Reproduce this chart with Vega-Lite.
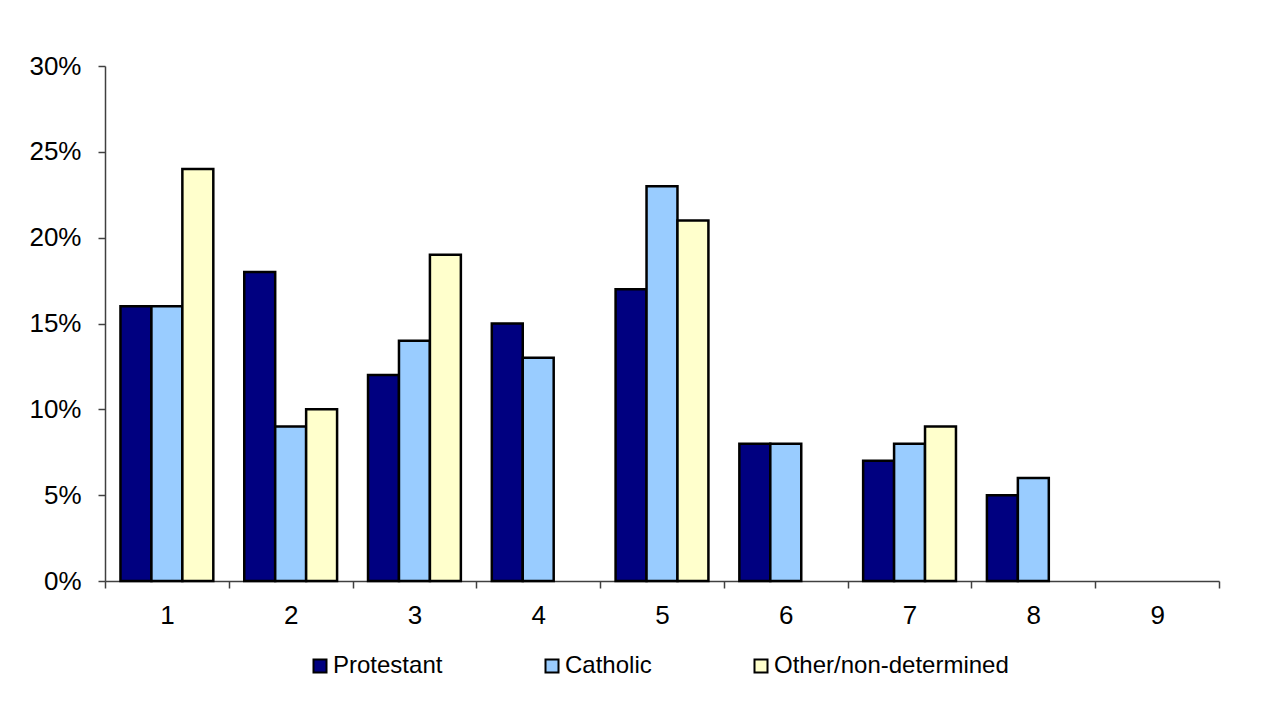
{
  "$schema": "https://vega.github.io/schema/vega-lite/v6.json",
  "width": 1114,
  "height": 515,
  "autosize": {"type": "none"},
  "padding": {"left": 105, "top": 66, "right": 54, "bottom": 127},
  "background": "white",
  "config": {
    "font": "Liberation Sans",
    "view": {"stroke": null},
    "axis": {"grid": false, "labelFont": "Liberation Sans", "labelFontSize": 26, "labelColor": "black", "domainColor": "#404040", "tickColor": "#404040", "domainWidth": 1.5, "tickWidth": 1.5, "tickSize": 7}
  },
  "data": {
    "values": [
      {"group": "1", "religion": "Protestant", "value": 0.16},
      {"group": "1", "religion": "Catholic", "value": 0.16},
      {"group": "1", "religion": "Other/non-determined", "value": 0.24},
      {"group": "2", "religion": "Protestant", "value": 0.18},
      {"group": "2", "religion": "Catholic", "value": 0.09},
      {"group": "2", "religion": "Other/non-determined", "value": 0.10},
      {"group": "3", "religion": "Protestant", "value": 0.12},
      {"group": "3", "religion": "Catholic", "value": 0.14},
      {"group": "3", "religion": "Other/non-determined", "value": 0.19},
      {"group": "4", "religion": "Protestant", "value": 0.15},
      {"group": "4", "religion": "Catholic", "value": 0.13},
      {"group": "5", "religion": "Protestant", "value": 0.17},
      {"group": "5", "religion": "Catholic", "value": 0.23},
      {"group": "5", "religion": "Other/non-determined", "value": 0.21},
      {"group": "6", "religion": "Protestant", "value": 0.08},
      {"group": "6", "religion": "Catholic", "value": 0.08},
      {"group": "7", "religion": "Protestant", "value": 0.07},
      {"group": "7", "religion": "Catholic", "value": 0.08},
      {"group": "7", "religion": "Other/non-determined", "value": 0.09},
      {"group": "8", "religion": "Protestant", "value": 0.05},
      {"group": "8", "religion": "Catholic", "value": 0.06}
    ]
  },
  "mark": {"type": "bar", "stroke": "black", "strokeWidth": 2.5, "strokeJoin": "miter"},
  "encoding": {
    "x": {
      "field": "group",
      "type": "nominal",
      "scale": {"domain": ["1", "2", "3", "4", "5", "6", "7", "8", "9"], "paddingInner": 0, "paddingOuter": 0},
      "axis": {"title": null, "labelAngle": 0, "tickBand": "extent", "labelPadding": 14}
    },
    "xOffset": {
      "field": "religion",
      "type": "nominal",
      "scale": {"domain": ["Protestant", "Catholic", "Other/non-determined"], "paddingInner": 0, "paddingOuter": 0.5}
    },
    "y": {
      "field": "value",
      "type": "quantitative",
      "scale": {"domain": [0, 0.3], "nice": false},
      "axis": {"title": null, "values": [0, 0.05, 0.1, 0.15, 0.2, 0.25, 0.3], "format": ".0%", "labelPadding": 17}
    },
    "color": {
      "field": "religion",
      "type": "nominal",
      "scale": {"domain": ["Protestant", "Catholic", "Other/non-determined"], "range": ["#000080", "#99CCFF", "#FFFFCC"]},
      "legend": {
        "title": null,
        "orient": "none",
        "direction": "horizontal",
        "legendX": 203,
        "legendY": 588,
        "symbolType": "square",
        "symbolSize": 169,
        "symbolStrokeColor": "black",
        "symbolStrokeWidth": 2,
        "symbolOpacity": 1,
        "labelFont": "Liberation Sans",
        "labelFontSize": 24,
        "labelColor": "black",
        "labelOffset": 1,
        "labelLimit": 400,
        "columnPadding": 97
      }
    }
  }
}
